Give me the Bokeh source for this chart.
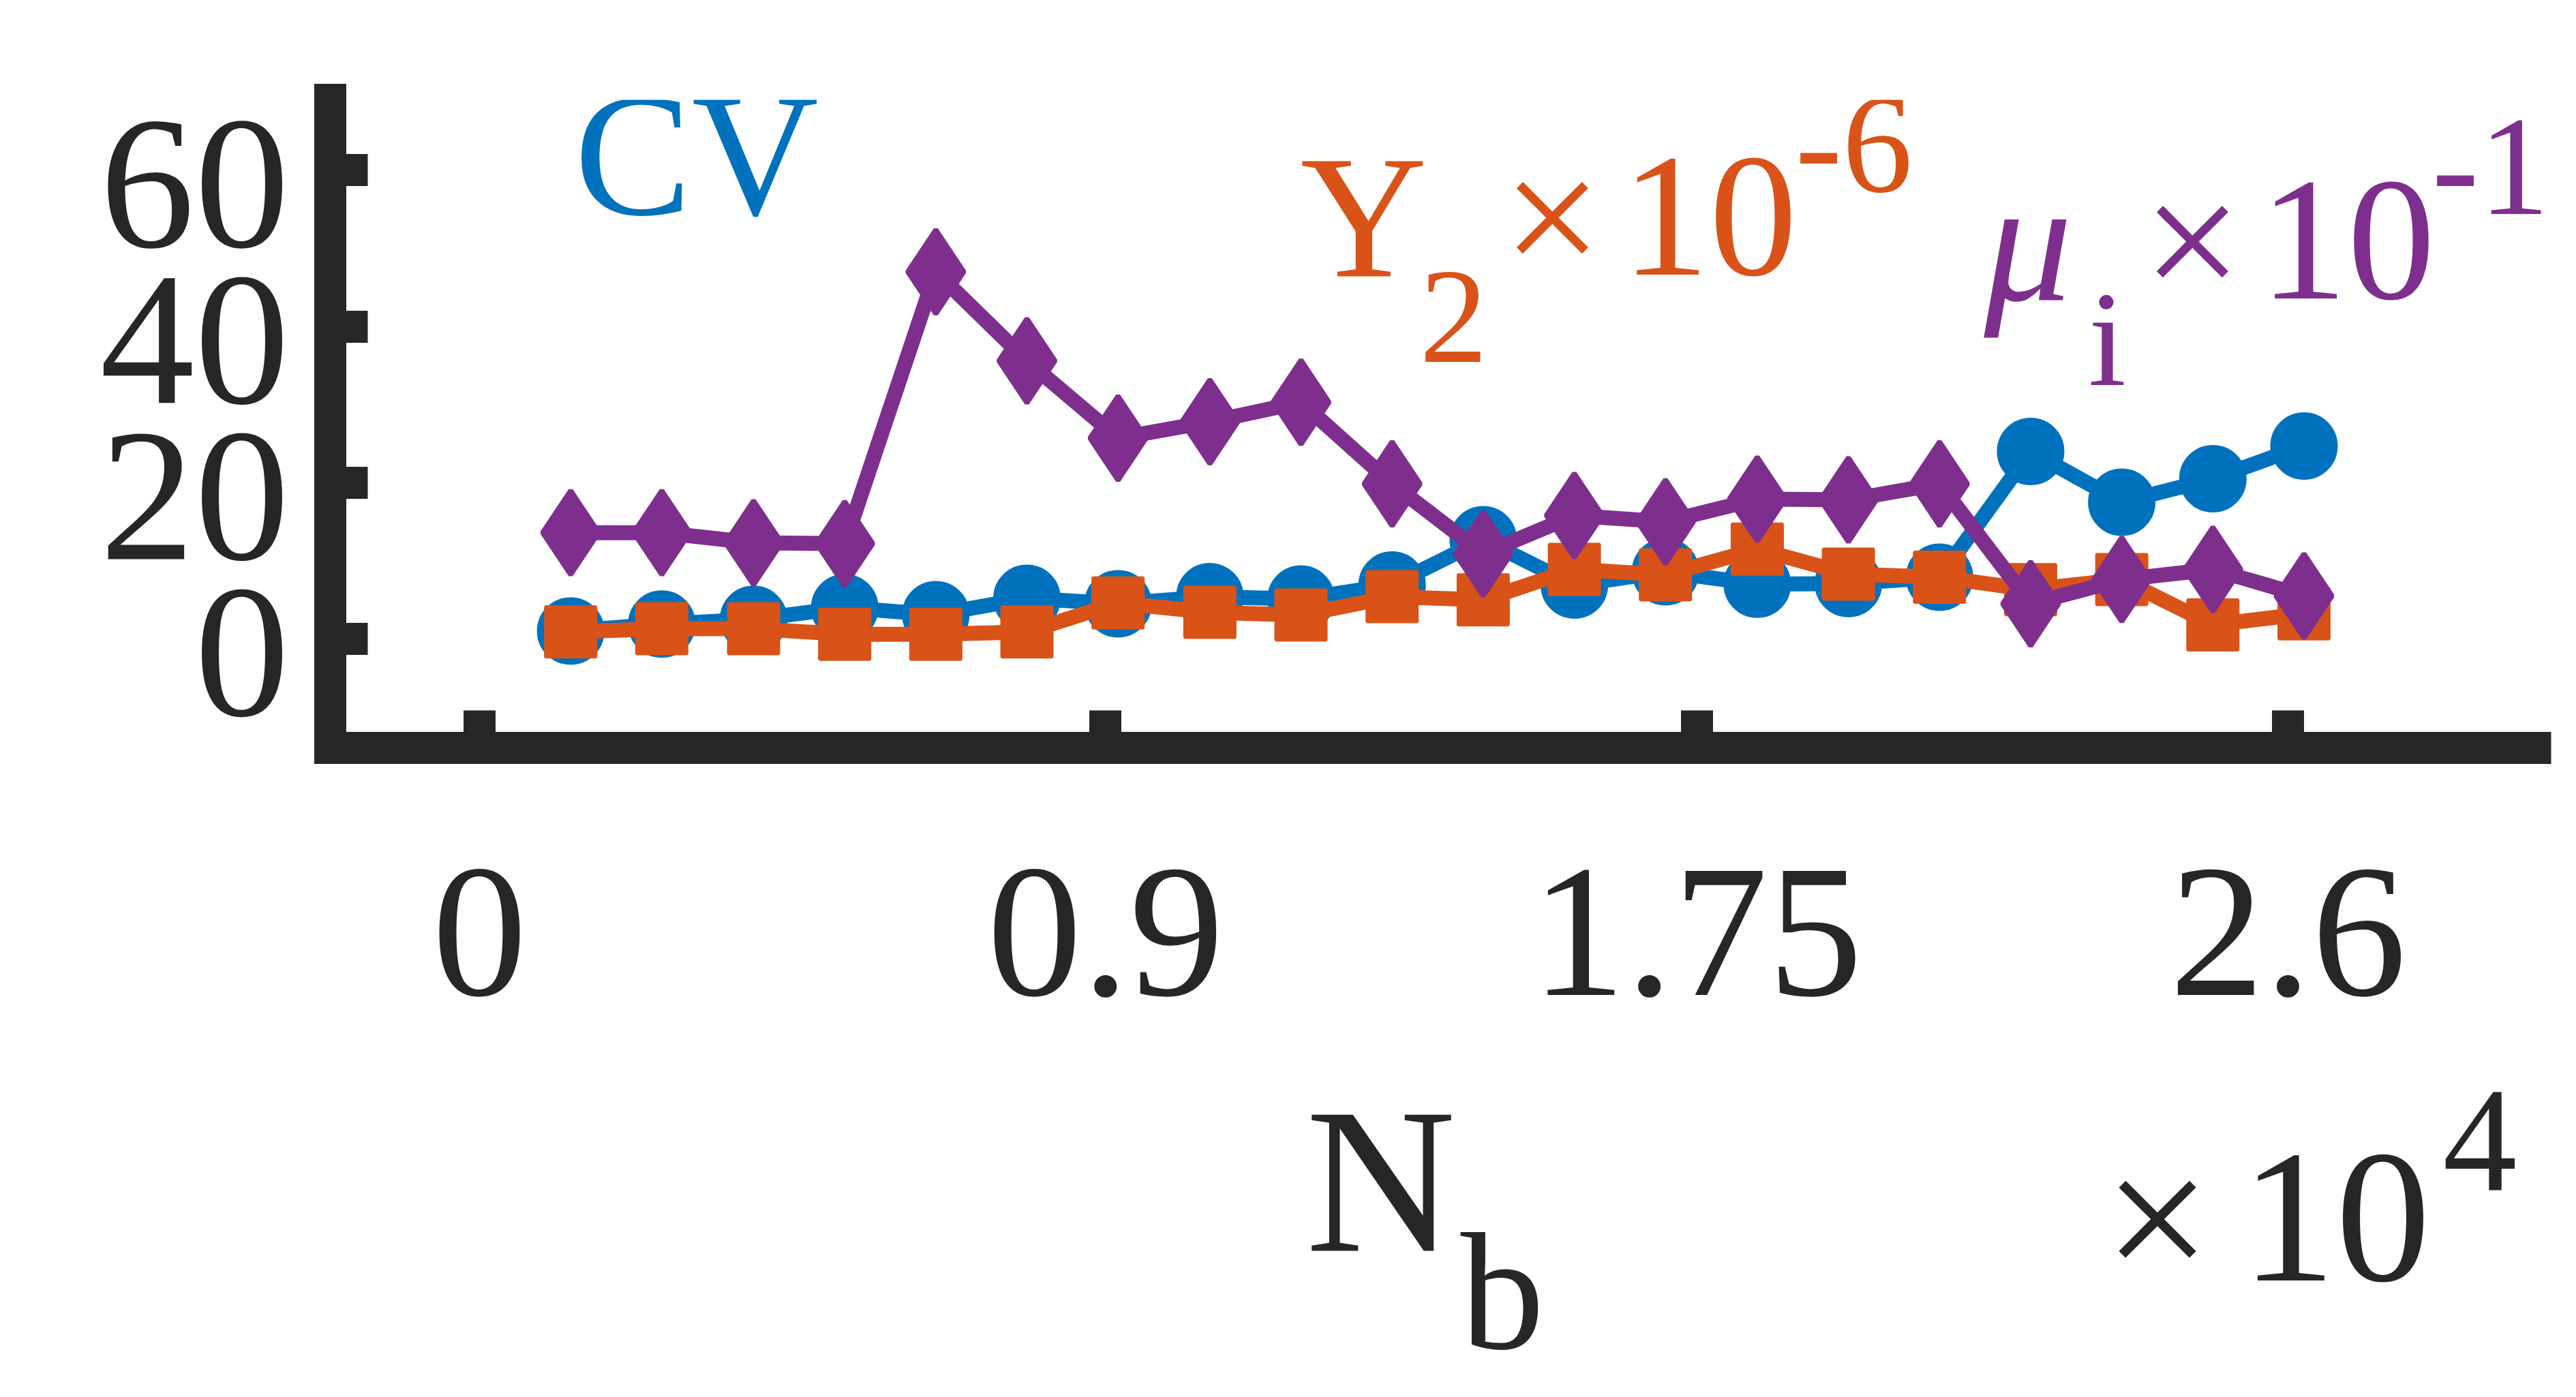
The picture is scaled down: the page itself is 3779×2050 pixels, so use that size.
from bokeh.plotting import figure
from bokeh.layouts import column
from bokeh.models import Range1d, FixedTicker, Label, ColumnDataSource, LinearAxis
from bokeh.embed import file_html
from bokeh.resources import INLINE

# ---------------- data (N_b in units of 1e4) ----------------
nb = [0.131, 0.262, 0.394, 0.525, 0.656, 0.787, 0.918, 1.050, 1.181, 1.312,
      1.443, 1.574, 1.705, 1.837, 1.968, 2.099, 2.230, 2.361, 2.492, 2.623]
cv = [1.0, 1.9, 2.5, 4.0, 3.1, 5.2, 4.5, 5.4, 5.1, 6.9,
      12.7, 6.9, 8.6, 7.0, 7.1, 7.9, 24.0, 17.5, 20.5, 24.7]
y2 = [0.9, 1.3, 1.3, 0.6, 0.6, 0.9, 4.6, 3.4, 3.05, 5.4,
      5.0, 8.9, 8.2, 11.5, 8.3, 7.9, 6.3, 7.6, 1.8, 3.2]
mu = [13.6, 13.6, 12.3, 12.2, 47.0, 35.6, 25.7, 27.8, 30.3, 19.85,
      10.9, 15.8, 15.0, 17.9, 17.8, 19.85, 4.5, 7.6, 8.9, 5.5]

x_ticks = [0, 0.9, 1.75, 2.6]
x_tick_labels = ["0", "0.9", "1.75", "2.6"]
y_ticks = [0, 20, 40, 60]
y_tick_labels = ["0", "20", "40", "60"]

BLUE, ORANGE, PURPLE, AX = "#0072BD", "#D95319", "#7E2F8E", "#262626"
FONT = "Liberation Serif"

W, H1, HTOT = 3760, 1600, 2034
OVERLAP = 110                 # lower text strip slides up over the empty bottom of the plot
H2 = HTOT - H1 + OVERLAP
XR = (-0.2146, 2.9783)
YR = (-13.96, 69.02)
BL, BR, BT, BB = 484, 18, 146, 503

p = figure(width=W, height=H1, output_backend="svg", toolbar_location=None,
           x_range=Range1d(*XR), y_range=Range1d(*YR),
           min_border_left=BL, min_border_right=BR,
           min_border_top=BT, min_border_bottom=BB)
p.outline_line_color = None
p.grid.visible = False
p.background_fill_color = "white"
p.border_fill_color = "white"

for ax in (p.xaxis[0], p.yaxis[0]):
    ax.axis_line_width = 47
    ax.axis_line_color = AX
    ax.major_tick_line_width = 47
    ax.major_tick_line_color = AX
    ax.major_tick_in = 55
    ax.major_tick_out = 0
    ax.minor_tick_line_color = None
    ax.major_label_text_font = FONT
    ax.major_label_text_font_size = "278px"
    ax.major_label_text_color = AX
p.yaxis.axis_line_cap = "square"
p.xaxis.axis_line_cap = "butt"

p.xaxis.ticker = FixedTicker(ticks=x_ticks)
p.xaxis.major_label_overrides = dict(zip(x_ticks, x_tick_labels))
p.xaxis.major_label_standoff = 180

# y axis: line + ticks on the main axis, labels on an outer label-only axis
p.yaxis.ticker = FixedTicker(ticks=y_ticks)
p.yaxis.major_label_overrides = {t: "" for t in y_ticks}
p.yaxis.major_label_standoff = 0
label_shift = 1.83   # labels sit slightly below their ticks, as in the reference
y_label_pos = [t - label_shift for t in y_ticks]
ylab = LinearAxis(ticker=FixedTicker(ticks=y_label_pos),
                  major_label_overrides=dict(zip(y_label_pos, y_tick_labels)),
                  axis_line_color=None, major_tick_line_color=None,
                  minor_tick_line_color=None, major_tick_in=0, major_tick_out=0,
                  major_label_standoff=60, major_label_text_font=FONT,
                  major_label_text_font_size="278px", major_label_text_color=AX)
p.add_layout(ylab, "left")

src = ColumnDataSource(dict(nb=nb, cv=cv, y2=y2, mu=mu))

p.line("nb", "cv", source=src, line_color=BLUE, line_width=22)
p.scatter("nb", "cv", source=src, marker="circle", size=95,
          fill_color=BLUE, line_color=BLUE, line_width=4)
p.line("nb", "y2", source=src, line_color=ORANGE, line_width=22)
p.scatter("nb", "y2", source=src, marker="square", size=74,
          fill_color=ORANGE, line_color=ORANGE, line_width=4)
p.line("nb", "mu", source=src, line_color=PURPLE, line_width=22)
p.scatter("nb", "mu", source=src, marker="diamond", size=124,
          fill_color=PURPLE, line_color=PURPLE, line_width=7)

# page-pixel -> data coordinate helpers (page has 8px margin)
FW = W - BL - BR
FH = H1 - BT - BB
def xd(px):
    return XR[0] + (px - 8 - BL) * (XR[1] - XR[0]) / FW
def yd(py):
    return YR[1] - (py - 8 - BT) * (YR[1] - YR[0]) / FH

MID = 0.3375  # baseline sits this many em below the 'middle' anchor

def lab(text, px, base, size, color, style="normal"):
    py = base - MID * size
    p.add_layout(Label(x=xd(px), y=yd(py), text=text, text_font=FONT,
                       text_font_size=f"{size}px", text_color=color,
                       text_align="left", text_baseline="middle",
                       text_font_style=style))

# series annotations
lab("CV", 850, 322, 258, BLUE)
lab("Y", 1915, 413, 258, ORANGE)
lab("2", 2090, 540, 200, ORANGE)
lab("\u00d7", 2212, 413, 258, ORANGE)
lab("10", 2386, 413, 258, ORANGE)
lab("-6", 2641, 290, 207, ORANGE)
MS = -14  # small leftward nudge so the exponent stays inside the plot area
lab("\u03bc", 2932 + MS, 448, 258, PURPLE, "italic")
lab("i", 3085 + MS, 572, 200, PURPLE)
lab("\u00d7", 3165 + MS, 448, 258, PURPLE)
lab("10", 3336 + MS, 448, 258, PURPLE)
lab("-1", 3589 + MS, 323, 207, PURPLE)

# ---------------- lower strip: x-axis label and exponent ----------------
# frame aligned with the main plot's frame; x range in page pixels
FL_PAGE = 8 + BL
FR_PAGE = 8 + W - BR
q = figure(width=W, height=H2, output_backend="svg", toolbar_location=None,
           x_range=Range1d(FL_PAGE, FR_PAGE), y_range=Range1d(0, H2),
           x_axis_type=None, y_axis_type=None,
           min_border_left=BL, min_border_right=BR,
           min_border_top=0, min_border_bottom=0)
q.outline_line_color = None
q.grid.visible = False
q.background_fill_color = None
q.border_fill_color = None
q.margin = (-OVERLAP, 0, 0, 0)

Q_BOTTOM = 8 + HTOT

def qlab(text, px, base, size, color=AX):
    py = base - MID * size
    q.add_layout(Label(x=px, y=Q_BOTTOM - py, text=text, text_font=FONT,
                       text_font_size=f"{size}px", text_color=color,
                       text_align="left", text_baseline="middle"))

qlab("N", 1923, 1843, 305)
qlab("b", 2150, 1987, 246)
qlab("\u00d7", 3094, 1889, 278)
qlab("10", 3295, 1889, 278)
qlab("4", 3591, 1756, 218)

layout = column(p, q, spacing=0)
open("out.html", "w").write(file_html(layout, INLINE))
